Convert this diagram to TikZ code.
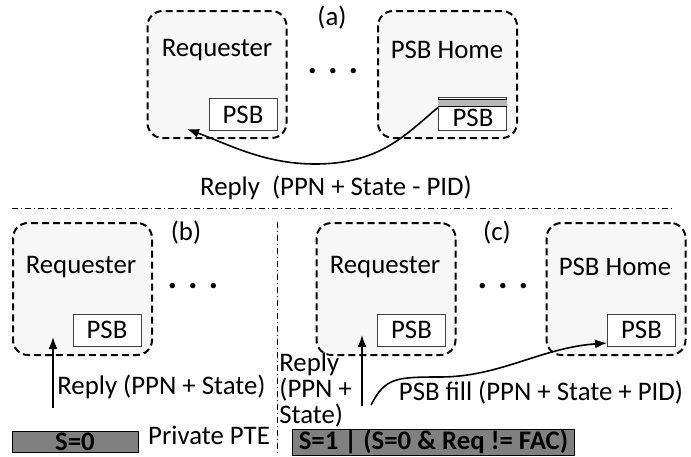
\documentclass[tikz,border=0pt]{standalone}
\usepackage{fontspec}
\setmainfont{Carlito}
\usetikzlibrary{arrows.meta}

\tikzset{
  core/.style={draw,rounded corners=7.5pt,dash pattern=on 3.5pt off 2pt,line width=1pt,
    fill=black!3,minimum width=69.5pt,minimum height=66pt,inner sep=0pt},
  psbbox/.style={draw=black!75,fill=white,line width=0.5pt,minimum width=34pt,
    minimum height=16pt,inner sep=0pt},
  ptebar/.style={draw,fill=black!50,line width=0.5pt,inner sep=0pt,
    font=\fontsize{13.4}{15}\selectfont\bfseries},
  sepline/.style={line width=0.5pt,dash pattern=on 3pt off 1.5pt on 0.5pt off 1.5pt},
  msg/.style={-{Latex[length=6pt,width=4.5pt]},line width=0.8pt},
  dots/.style={font=\fontsize{18}{18}\selectfont\bfseries,inner sep=0pt},
}

\begin{document}
\begin{tikzpicture}[x=0.5pt,y=-0.5pt,font=\fontsize{13.4}{15}\selectfont]
\useasboundingbox (0,0) rectangle (691,456);

% (a)
\node (reqa) at (217,74.5) [core,minimum height=63.5pt] {};
\node (homea) at (447.5,74.5) [core,minimum height=63.5pt] {};
\node (psba) at (243,114) [psbbox] {};
\node (psbha) at (472.5,113.5) [psbbox,minimum height=16.5pt] {};
\fill[black!28] ([yshift=-1.5pt]psbha.north west) rectangle ([yshift=-5pt]psbha.north east);
\draw[line width=0.4pt] ([yshift=-1.5pt]psbha.north west) -- ([yshift=-1.5pt]psbha.north east);
\draw[line width=0.4pt] ([yshift=-5pt]psbha.north west) -- ([yshift=-5pt]psbha.north east);
\node (ta) at (332,18) {(a)};
\node (reqta) at (217,50) {Requester};
\node (hometa) at (447,50) {PSB Home};
\node (psbta) at (243,115) {PSB};
\node (psbhta) at (473,118) {PSB};
\node (dotsa) at (333,71) [dots] {. . .};
\coordinate (enda) at (187,129);
\draw[msg] ([yshift=3pt]psbha.west) .. controls (405,135) and (380,164) .. (315,164)
  .. controls (265,164) and (230,145) .. (enda);
\node (replya) at (336,188) {Reply\ \ (PPN + State - PID)};

% separators
\coordinate (sepl) at (12,208);
\coordinate (sepr) at (673,208);
\coordinate (sept) at (277,222);
\coordinate (sepb) at (277,456);
\draw[sepline] (sepl) -- (sepr);
\draw[sepline] (sept) -- (sepb);

% (b)
\node (reqb) at (82.5,289) [core] {};
\node (psbb) at (107,330) [psbbox] {PSB};
\node (tb) at (186,233) {(b)};
\node (reqtb) at (81,267) {Requester};
\node (dotsb) at (193,286) [dots] {. . .};
\node (pteb) at (75,441.5) [ptebar,minimum width=63pt,minimum height=10.5pt] {S=0};
\node (privb) at (209,435) {Private PTE};
\coordinate (startb) at (53,408);
\coordinate (endb) at (53,337);
\draw[msg] (startb) -- (endb);
\node (replyb) at (57,387) [anchor=west,inner sep=0pt] {Reply (PPN + State)};

% (c)
\node (reqc) at (386,289) [core] {};
\node (homec) at (616,289) [core] {};
\node (psbc) at (411.5,330) [psbbox] {PSB};
\node (psbhc) at (641.5,330) [psbbox] {PSB};
\node (tc) at (497,233) {(c)};
\node (reqtc) at (385,267) {Requester};
\node (hometc) at (615,267) {PSB Home};
\node (dotsc) at (503,286) [dots] {. . .};
\node (ptec) at (433.5,442) [ptebar,minimum width=141pt,minimum height=13pt] {S=1 | (S=0 \& Req != FAC)};
\coordinate (startc) at (362,406);
\coordinate (endc) at (362,335);
\draw[msg] (startc) -- (endc);
\node (replyc) at (279,390) [anchor=west,align=left,inner sep=0pt,
  font=\fontsize{13.4}{10.3}\selectfont] {Reply\\(PPN +\\State)};
\coordinate (fillc) at (371,405);
\draw[msg] (fillc) .. controls (385,378) and (395,377) .. (440,377)
  .. controls (500,377) and (540,348) .. ([yshift=-6.5pt]psbhc.west);
\node (filltc) at (541,393) {PSB fill (PPN + State + PID)};
\end{tikzpicture}
\end{document}
